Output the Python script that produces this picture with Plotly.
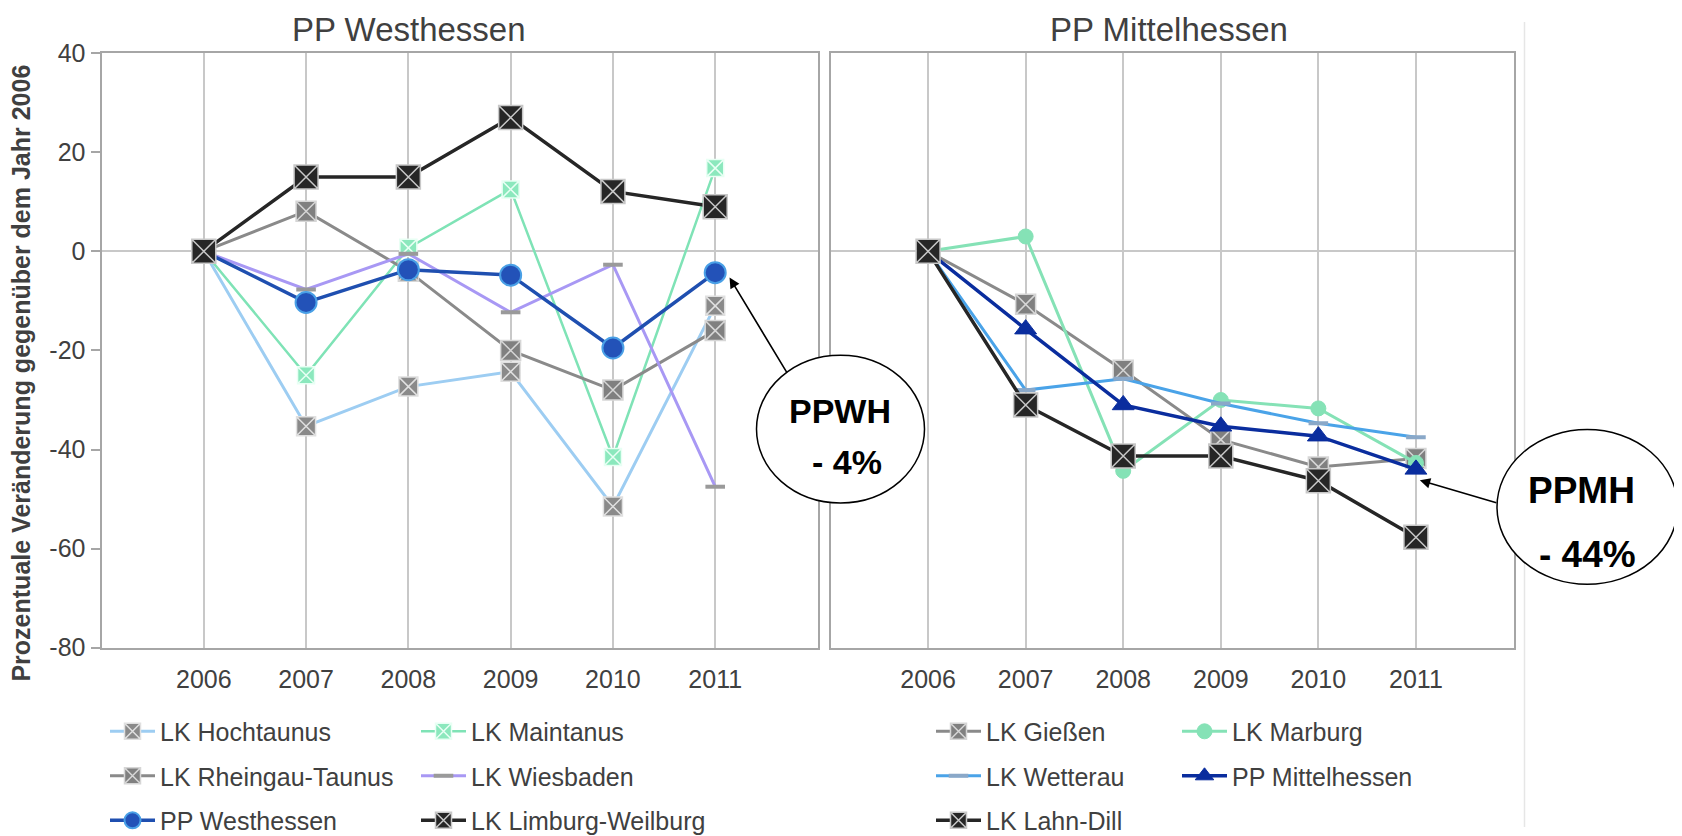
import plotly.graph_objects as go

years = [2006, 2007, 2008, 2009, 2010, 2011]

# PP Westhessen panel
hochtaunus = [0, -35.3, -27.3, -24.3, -51.5, -11]
maintanus = [0, -25, 0.7, 12.5, -41.5, 16.8]
rheingau_taunus = [0, 8.1, -4, -20, -28, -16]
wiesbaden = [0, -7.7, -0.5, -12.3, -2.7, -47.5]
pp_westhessen = [0, -10.3, -3.7, -4.8, -19.5, -4.3]
limburg_weilburg = [0, 15, 15, 27, 12.1, 9]

# PP Mittelhessen panel
giessen = [0, -10.7, -24, -38, -43.5, -41.8]
marburg = [0, 3, -44.3, -30, -31.7, -42.7]
wetterau = [0, -28, -25.7, -30.7, -34.7, -37.5]
pp_mittelhessen = [0, -15.7, -31, -35.3, -37.3, -44]
lahn_dill = [0, -31, -41.3, -41.3, -46.3, -57.7]

y_ticks = [40, 20, 0, -20, -40, -60, -80]
y_ticktext = ["40", "20", "0", "-20", "-40", "-60", "-80"]
titles = ["PP Westhessen", "PP Mittelhessen"]
y_title = "Prozentuale Veränderung gegenüber dem Jahr 2006"

W, H = 1682, 836
FONT = "Liberation Sans, Arial, sans-serif"
TXT = "#404040"


# screen-pixel -> paper helpers
def px(v):
    return (v - 8.5) / W


def py(v):
    return 1 - ((v - 19.0) / 0.971) / H


fig = go.Figure()


def add(name, ys, xa, ya, lcolor, lwidth, symbol, msize, mcolor, mline, mlw, legend):
    fig.add_trace(go.Scatter(
        x=years, y=ys, name=name, mode="lines+markers",
        xaxis=xa, yaxis=ya, legend=legend, legendgroup=name,
        line=dict(color=lcolor, width=lwidth),
        marker=dict(symbol=symbol, size=msize, color=mcolor,
                    line=dict(color=mline, width=mlw)),
    ))


# left panel (drawing order as in original)
add("LK Hochtaunus", hochtaunus, "x", "y", "#9dcdf2", 3, "square-x", 19, "#8a8a8a", "#e0e0e0", 1.5, "legend")
add("LK Maintanus", maintanus, "x", "y", "#7fe3b6", 2.5, "square-x", 17, "#8be8bd", "#e8fff4", 1.5, "legend2")
add("LK Rheingau-Taunus", rheingau_taunus, "x", "y", "#8a8a8a", 3, "square-x", 20, "#808080", "#d6d6d6", 1.5, "legend")
add("LK Wiesbaden", wiesbaden, "x", "y", "#a898f4", 3, "line-ew", 14, "#9a9a9a", "#9a9a9a", 4, "legend2")
add("PP Westhessen", pp_westhessen, "x", "y", "#1f4fb0", 3.5, "circle", 21, "#2352b8", "#4aa0e6", 2, "legend")
add("LK Limburg-Weilburg", limburg_weilburg, "x", "y", "#262626", 3.5, "square-x", 24, "#262626", "#c8c8c8", 1.5, "legend2")

# right panel
add("LK Gießen", giessen, "x2", "y2", "#8a8a8a", 3, "square-x", 20, "#808080", "#d6d6d6", 1.5, "legend3")
add("LK Marburg", marburg, "x2", "y2", "#85e2b6", 3, "circle", 15, "#85e2b6", "#85e2b6", 1, "legend4")
add("LK Wetterau", wetterau, "x2", "y2", "#4aa3e8", 3, "line-ew", 14, "#8aa8c8", "#8aa8c8", 4, "legend3")
add("PP Mittelhessen", pp_mittelhessen, "x2", "y2", "#0a2d9e", 3.5, "triangle-up", 19, "#0a2d9e", "#0a2d9e", 1, "legend4")
add("LK Lahn-Dill", lahn_dill, "x2", "y2", "#262626", 3.5, "square-x", 24, "#262626", "#c8c8c8", 1.5, "legend3")

ydom = [py(650), py(50.4)]
xcommon = dict(range=[2005, 2012], tickvals=years, showgrid=True, gridcolor="#c8c8c8",
               gridwidth=1.5, showline=True, linecolor="#a6a6a6", linewidth=2, mirror=True,
               zeroline=False, ticks="", ticklabelstandoff=8,
               tickfont=dict(family=FONT, size=25, color=TXT), fixedrange=True)
ycommon = dict(range=[-80, 40], tickvals=y_ticks, ticktext=y_ticktext, showgrid=False,
               zeroline=True, zerolinecolor="#c8c8c8", zerolinewidth=2, showline=True,
               linecolor="#a6a6a6", linewidth=2, mirror=True, domain=ydom, fixedrange=True)

legend_common = dict(orientation="v", bgcolor="rgba(0,0,0,0)", borderwidth=0,
                     font=dict(family=FONT, size=25, color=TXT), tracegroupgap=9,
                     itemwidth=45, yanchor="top", xanchor="left", traceorder="grouped")
ly = 1 - 713 / H

fig.update_layout(
    width=W, height=H, margin=dict(l=0, r=0, t=0, b=0),
    plot_bgcolor="white", paper_bgcolor="white",
    xaxis=dict(domain=[px(102), px(818)], anchor="y", **xcommon),
    yaxis=dict(anchor="x", ticks="outside", ticklen=9, tickcolor="#a6a6a6", tickwidth=2,
               tickfont=dict(family=FONT, size=25, color=TXT), **ycommon),
    xaxis2=dict(domain=[px(831), px(1514)], anchor="y2", **xcommon),
    yaxis2=dict(anchor="x2", showticklabels=False, ticks="", matches="y", **ycommon),
    legend=dict(x=97 / W, y=ly, **legend_common),
    legend2=dict(x=408 / W, y=ly, **legend_common),
    legend3=dict(x=923 / W, y=ly, **legend_common),
    legend4=dict(x=1169 / W, y=ly, **legend_common),
    showlegend=True,
)

annos = [
    dict(text=titles[0], x=px(409), y=py(27), xref="paper", yref="paper", showarrow=False,
         xanchor="center", yanchor="middle", font=dict(family=FONT, size=33, color=TXT)),
    dict(text=titles[1], x=px(1169), y=py(27), xref="paper", yref="paper", showarrow=False,
         xanchor="center", yanchor="middle", font=dict(family=FONT, size=33, color=TXT)),
    dict(text=y_title, x=px(22), y=py(373), xref="paper", yref="paper", showarrow=False,
         xanchor="center", yanchor="middle", textangle=-90,
         font=dict(family=FONT, size=25, color=TXT, weight="bold")),
]

shapes = [
    dict(type="line", xref="paper", yref="paper", x0=px(1525), x1=px(1525), y0=0, y1=1,
         line=dict(color="#e6e6e6", width=1.5)),
    dict(type="circle", xref="paper", yref="paper", x0=px(757), x1=px(925),
         y0=py(504), y1=py(355), fillcolor="white", line=dict(color="black", width=1.5),
         layer="above"),
    dict(type="circle", xref="paper", yref="paper", x0=px(1497.5), x1=px(1678),
         y0=py(586), y1=py(430), fillcolor="white", line=dict(color="black", width=1.5),
         layer="above"),
]

bold34 = dict(family=FONT, size=34, color="black", weight="bold")
bold37 = dict(family=FONT, size=37, color="black", weight="bold")
common_t = dict(xref="paper", yref="paper", showarrow=False, xanchor="center", yanchor="middle")
annos += [
    dict(text="PPWH", x=px(840), y=py(411), font=bold34, **common_t),
    dict(text="- 4%", x=px(847), y=py(463), font=bold34, **common_t),
    dict(text="PPMH", x=px(1582), y=py(491), font=bold37, **common_t),
    dict(text="- 44%", x=px(1588), y=py(556), font=bold37, **common_t),
    dict(text="", x=2011.14, y=-5.3, xref="x", yref="y", showarrow=True, ax=58, ay=96,
         arrowhead=2, arrowsize=1.3, arrowwidth=1.6, arrowcolor="black", standoff=0),
    dict(text="", x=2011.04, y=-46.2, xref="x2", yref="y2", showarrow=True, ax=78, ay=23,
         arrowhead=2, arrowsize=1.3, arrowwidth=1.6, arrowcolor="black", standoff=0),
]

fig.update_layout(annotations=annos, shapes=shapes)
fig.write_html("out.html")
